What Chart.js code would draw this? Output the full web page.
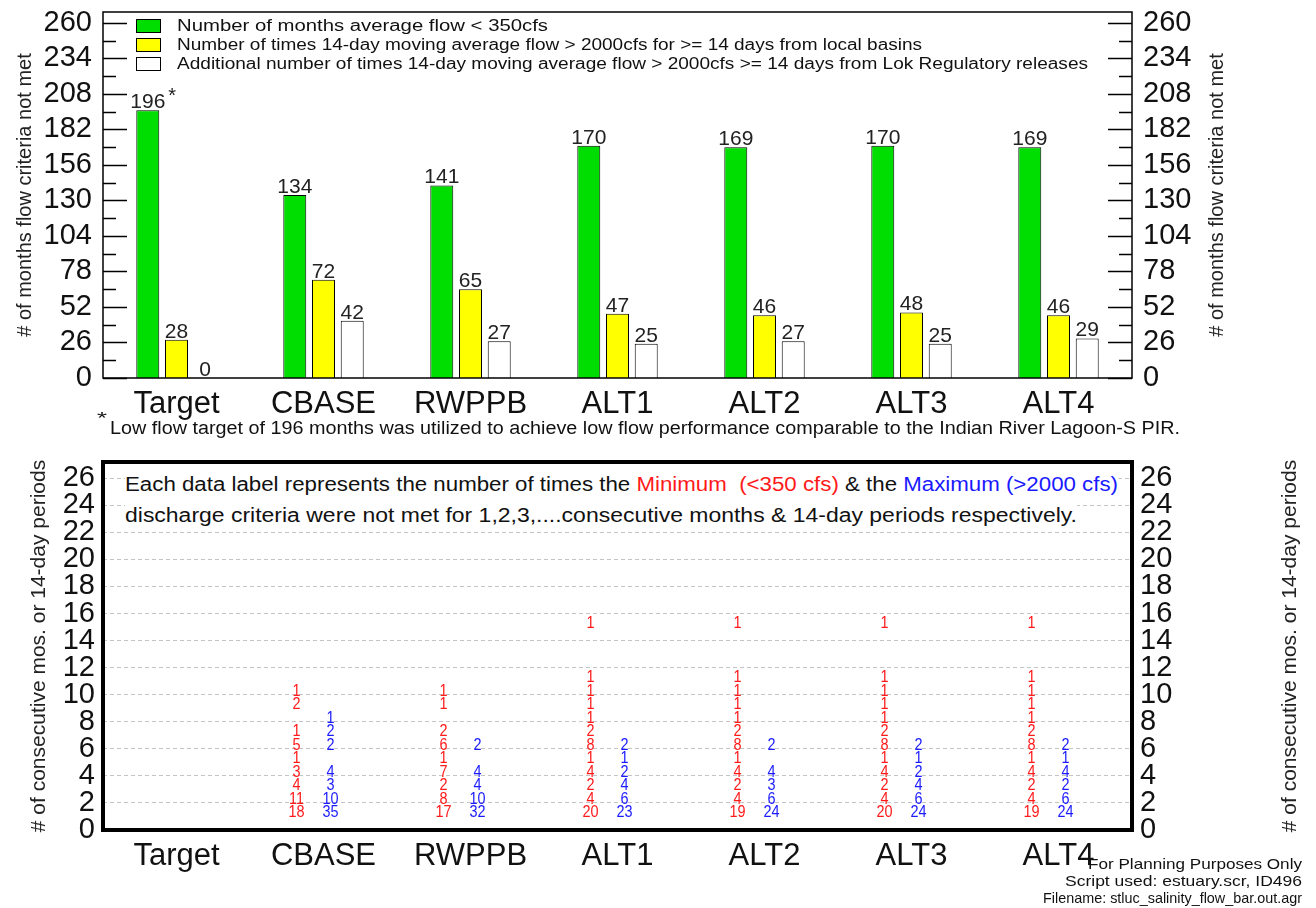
<!DOCTYPE html>
<html>
<head>
<meta charset="utf-8">
<script src="https://cdn.jsdelivr.net/npm/chart.js@4.4.1/dist/chart.umd.min.js"></script>
<style>
body { margin: 0; background: #fff; width: 1316px; height: 908px; position: relative; overflow: hidden;
       font-family: "Liberation Sans", Arial, sans-serif; color: #111; }
canvas { position: absolute; left: 0; }
#topChart { top: 0; }
#bottomChart { top: 440px; }
.fit { position: absolute; white-space: nowrap; line-height: 1; transform-origin: 0 50%; }
.sw { position: absolute; left: 136px; width: 23px; height: 12px; border: 1px solid #000; }
.red { color: #ff1a1a; }
.blue { color: #1a1aff; }
.bg { background: #fff; padding: 3px 0; }
</style>
</head>
<body>
<canvas id="topChart" width="1316" height="420"></canvas>
<canvas id="bottomChart" width="1316" height="468"></canvas>

<!-- legend of the top chart -->
<div class="sw" style="top:19px;background:#00dd00"></div>
<div class="sw" style="top:38px;background:#ffff00"></div>
<div class="sw" style="top:57px;background:#fff"></div>
<div class="fit" data-x="177" data-y="26" data-w="371" style="font-size:16px">Number of months average flow &lt; 350cfs</div>
<div class="fit" data-x="177" data-y="45" data-w="745" style="font-size:16px">Number of times 14-day moving average flow &gt; 2000cfs for &gt;= 14 days from local basins</div>
<div class="fit" data-x="177" data-y="64" data-w="911" style="font-size:16px">Additional number of times 14-day moving average flow &gt; 2000cfs &gt;= 14 days from Lok Regulatory releases</div>

<!-- footnote -->
<div class="fit" data-x="97" data-y="419" data-w="10" style="font-size:16px">*</div>
<div class="fit" data-x="110" data-y="428" data-w="1070" style="font-size:18px">Low flow target of 196 months was utilized to achieve low flow performance comparable to the Indian River Lagoon-S PIR.</div>

<!-- note inside the bottom chart -->
<div class="fit bg" data-x="125" data-y="484" data-w="993" style="font-size:20px">Each data label represents the number of times the <span class="red">Minimum&nbsp; (&lt;350 cfs)</span> &amp; the <span class="blue">Maximum (&gt;2000 cfs)</span></div>
<div class="fit bg" data-x="125" data-y="515" data-w="952" style="font-size:20px">discharge criteria were not met for 1,2,3,....consecutive months &amp; 14-day periods respectively.</div>

<!-- bottom right notes -->
<div class="fit" data-r="1302" data-y="863" data-w="214" style="font-size:15px">For Planning Purposes Only</div>
<div class="fit" data-r="1302" data-y="880" data-w="237" style="font-size:15px">Script used: estuary.scr, ID496</div>
<div class="fit" data-r="1302" data-y="897" data-w="259" style="font-size:15px">Filename: stluc_salinity_flow_bar.out.agr</div>

<script>
const FONT = '"Liberation Sans", Arial, sans-serif';

// ---- data ----
const categories = ['Target', 'CBASE', 'RWPPB', 'ALT1', 'ALT2', 'ALT3', 'ALT4'];
const lowFlowMonths = [196, 134, 141, 170, 169, 170, 169];
const localBasinHigh = [28, 72, 65, 47, 46, 48, 46];
const lokReleaseHigh = [0, 42, 27, 25, 27, 25, 29];
const lowFlowMarks = ['*', '', '', '', '', '', ''];
const topTickValues = [0, 26, 52, 78, 104, 130, 156, 182, 208, 234, 260];
const bottomTickValues = [0, 2, 4, 6, 8, 10, 12, 14, 16, 18, 20, 22, 24, 26];

// counts of 1,2,3,... consecutive months (red) / 14-day periods (blue), per category
const minRunCounts = [
  [],
  [18, 11, 4, 3, 1, 5, 1, 0, 2, 1],
  [17, 8, 2, 7, 1, 6, 2, 0, 1, 1],
  [20, 4, 2, 4, 1, 8, 2, 1, 1, 1, 1, 0, 0, 0, 1],
  [19, 4, 2, 4, 1, 8, 2, 1, 1, 1, 1, 0, 0, 0, 1],
  [20, 4, 2, 4, 1, 8, 2, 1, 1, 1, 1, 0, 0, 0, 1],
  [19, 4, 2, 4, 1, 8, 2, 1, 1, 1, 1, 0, 0, 0, 1]
];
const maxRunCounts = [
  [],
  [35, 10, 3, 4, 0, 2, 2, 1],
  [32, 10, 4, 4, 0, 2],
  [23, 6, 4, 2, 1, 2],
  [24, 6, 3, 4, 0, 2],
  [24, 6, 4, 2, 1, 2],
  [24, 6, 2, 4, 1, 2]
];

// draws the right-hand axis title reading bottom to top, like the left one
function drawRightTitle(chart, size, pad) {
  const s = chart.scales.y1, a = chart.chartArea, ctx = chart.ctx;
  const text = s.options.title.text;
  ctx.save();
  ctx.font = size + 'px ' + FONT;
  ctx.fillStyle = '#222';
  ctx.textAlign = 'center';
  ctx.textBaseline = 'middle';
  ctx.translate(s.right - pad - size * 0.6, (a.top + a.bottom) / 2);
  ctx.rotate(-Math.PI / 2);
  ctx.fillText(text, 0, 0);
  ctx.restore();
}

function setTicks(values) {
  return s => { s.ticks = values.map(v => ({ value: v })); };
}
function noPadY(s, w) { s.width = w; s.paddingTop = 0; s.paddingBottom = 0; }
function noPadX(s, h) { s.height = h; s.paddingLeft = 0; s.paddingRight = 0; }

// ---- top chart ----
const topDecor = {
  id: 'topDecor',
  afterDatasetsDraw(chart) {
    const ctx = chart.ctx;
    ctx.save();
    ctx.fillStyle = '#222';
    ctx.textAlign = 'center';
    ctx.textBaseline = 'alphabetic';
    chart.data.datasets.forEach((ds, di) => {
      chart.getDatasetMeta(di).data.forEach((bar, i) => {
        ctx.font = '21px ' + FONT;
        const txt = String(ds.data[i]);
        ctx.fillText(txt, bar.x, bar.y - 2);
        if (ds.marks && ds.marks[i]) {
          const w = ctx.measureText(txt).width;
          ctx.font = '20px ' + FONT;
          ctx.textAlign = 'left';
          ctx.fillText(ds.marks[i], bar.x + w / 2 + 3, bar.y - 8);
          ctx.textAlign = 'center';
        }
      });
    });
    ctx.restore();
  },
  afterDraw(chart) {
    const ctx = chart.ctx, a = chart.chartArea, y = chart.scales.y;
    ctx.save();
    ctx.strokeStyle = '#000';
    ctx.lineWidth = 1.5;
    ctx.strokeRect(a.left, a.top, a.right - a.left, a.bottom - a.top);
    ctx.lineWidth = 1.3;
    y.ticks.forEach((t, i) => {
      const marks = [[t.value, 24]];
      if (i > 0) marks.push([(t.value + y.ticks[i - 1].value) / 2, 13]);
      marks.forEach(([v, len]) => {
        const py = Math.round(y.getPixelForValue(v)) + 0.5;
        ctx.beginPath();
        ctx.moveTo(a.left, py); ctx.lineTo(a.left + len, py);
        ctx.moveTo(a.right, py); ctx.lineTo(a.right - len, py);
        ctx.stroke();
      });
    });
    ctx.restore();
    drawRightTitle(chart, 20, 87);
  }
};

const topYTitle = '# of months flow criteria not met';

new Chart(document.getElementById('topChart'), {
  type: 'bar',
  data: {
    labels: categories,
    datasets: [
      { label: 'Number of months average flow < 350cfs', data: lowFlowMonths, marks: lowFlowMarks,
        backgroundColor: '#00dd00' },
      { label: 'Number of times 14-day moving average flow > 2000cfs for >= 14 days from local basins',
        data: localBasinHigh, backgroundColor: '#ffff00' },
      { label: 'Additional number of times 14-day moving average flow > 2000cfs >= 14 days from Lok Regulatory releases',
        data: lokReleaseHigh, backgroundColor: '#ffffff' }
    ].map(d => Object.assign(d, { borderColor: '#000', borderWidth: 1,
        categoryPercentage: 0.586, barPercentage: 0.8 }))
  },
  options: {
    responsive: false,
    animation: false,
    layout: { padding: { top: 12, left: 0, right: 0, bottom: 0 } },
    plugins: { legend: { display: false }, tooltip: { enabled: false } },
    scales: {
      x: {
        grid: { display: false, drawTicks: false },
        border: { display: false },
        ticks: { color: '#111', font: { family: FONT, size: 31 }, padding: 8, autoSkip: false, maxRotation: 0 },
        afterFit: s => noPadX(s, 42)
      },
      y: {
        position: 'left', min: 0, max: 268,
        grid: { display: false, drawTicks: false },
        border: { display: false },
        ticks: { autoSkip: false, color: '#111', padding: 11, font: { family: FONT, size: 29 } },
        afterBuildTicks: setTicks(topTickValues),
        title: { display: true, text: topYTitle, color: '#222', font: { family: FONT, size: 20 },
          padding: { top: 13, bottom: 0 } },
        afterFit: s => noPadY(s, 103)
      },
      y1: {
        position: 'right', min: 0, max: 268, display: true,
        grid: { display: false, drawTicks: false },
        border: { display: false },
        ticks: { autoSkip: false, color: '#111', padding: 11, font: { family: FONT, size: 29 } },
        afterBuildTicks: setTicks(topTickValues),
        title: { display: false, text: topYTitle },
        afterFit: s => noPadY(s, 184)
      }
    }
  },
  plugins: [topDecor]
});

// ---- bottom chart ----
function runPoints(counts) {
  const pts = [];
  counts.forEach((list, c) => {
    list.forEach((n, k) => {
      if (n > 0) pts.push({ x: categories[c], y: k + 1, n: n });
    });
  });
  return pts;
}

const runLabels = {
  id: 'runLabels',
  afterDatasetsDraw(chart) {
    const ctx = chart.ctx;
    ctx.save();
    ctx.font = '17px ' + FONT;
    ctx.textAlign = 'center';
    ctx.textBaseline = 'alphabetic';
    chart.data.datasets.forEach((ds, di) => {
      ctx.fillStyle = ds.textColor;
      chart.getDatasetMeta(di).data.forEach((pt, i) => {
        ctx.save();
        ctx.translate(pt.x + ds.shift, pt.y + 1);
        ctx.scale(0.85, 1);
        ctx.fillText(String(ds.data[i].n), 0, 0);
        ctx.restore();
      });
    });
    ctx.restore();
  },
  afterDraw(chart) {
    const ctx = chart.ctx, a = chart.chartArea;
    ctx.save();
    ctx.strokeStyle = '#000';
    ctx.lineWidth = 4;
    ctx.strokeRect(a.left, a.top, a.right - a.left, a.bottom - a.top);
    ctx.restore();
    drawRightTitle(chart, 21, 13);
  }
};

const botYTitle = '# of consecutive mos. or 14-day periods';

new Chart(document.getElementById('bottomChart'), {
  type: 'scatter',
  data: {
    datasets: [
      { label: 'Minimum (<350 cfs)', data: runPoints(minRunCounts), textColor: '#ff1a1a', shift: -27,
        pointRadius: 0 },
      { label: 'Maximum (>2000 cfs)', data: runPoints(maxRunCounts), textColor: '#1a1aff', shift: 7,
        pointRadius: 0 }
    ]
  },
  options: {
    responsive: false,
    animation: false,
    layout: { padding: { top: 22, left: 0, right: 0, bottom: 0 } },
    plugins: { legend: { display: false }, tooltip: { enabled: false } },
    scales: {
      x: {
        type: 'category', labels: categories, offset: true,
        grid: { display: false, drawTicks: false },
        border: { display: false },
        ticks: { color: '#111', font: { family: FONT, size: 31 }, padding: 8, autoSkip: false, maxRotation: 0 },
        afterFit: s => noPadX(s, 78)
      },
      y: {
        position: 'left', min: 0, max: 27.2,
        grid: { color: '#c4c4c4', lineWidth: 1, drawTicks: false },
        border: { display: false, dash: [4, 3] },
        ticks: { autoSkip: false, color: '#111', padding: 8, font: { family: FONT, size: 29 } },
        afterBuildTicks: setTicks(bottomTickValues),
        title: { display: true, text: botYTitle, color: '#222', font: { family: FONT, size: 21 },
          padding: { top: 27, bottom: 0 } },
        afterFit: s => noPadY(s, 103)
      },
      y1: {
        position: 'right', min: 0, max: 27.2, display: true,
        grid: { display: false, drawTicks: false },
        border: { display: false },
        ticks: { autoSkip: false, color: '#111', padding: 8, font: { family: FONT, size: 29 } },
        afterBuildTicks: setTicks(bottomTickValues),
        title: { display: false, text: botYTitle },
        afterFit: s => noPadY(s, 184)
      }
    }
  },
  plugins: [runLabels]
});

// ---- fit static text to measured widths ----
document.querySelectorAll('.fit').forEach(el => {
  const r = el.getBoundingClientRect();
  const target = +el.dataset.w;
  const left = el.dataset.r ? +el.dataset.r - target : +el.dataset.x;
  el.style.left = left + 'px';
  el.style.top = (+el.dataset.y - r.height / 2) + 'px';
  el.style.transform = 'scaleX(' + (target / r.width) + ')';
});
</script>
</body>
</html>
